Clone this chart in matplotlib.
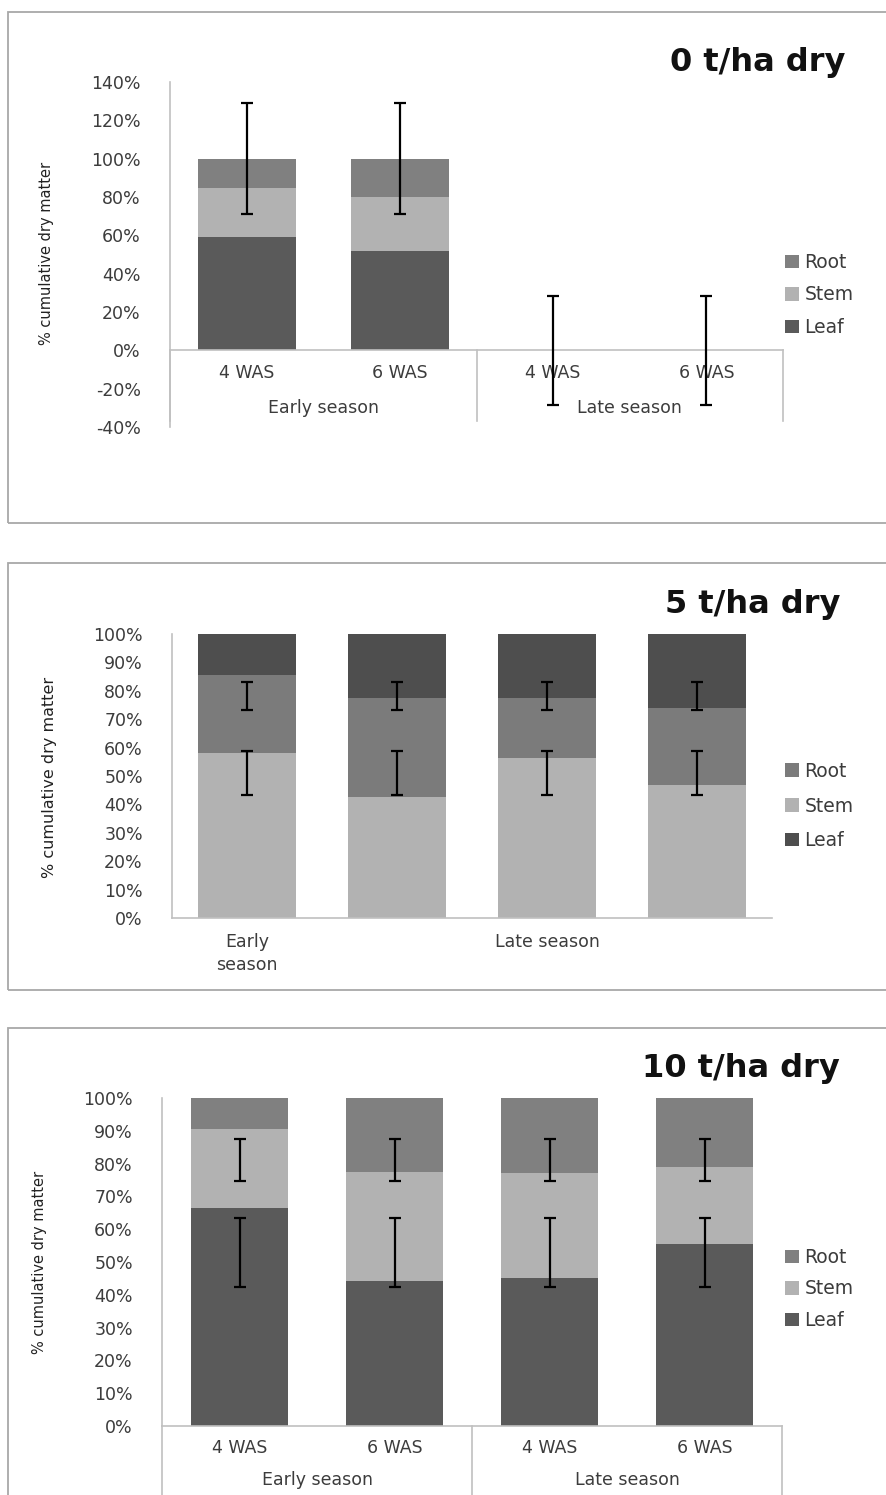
import matplotlib
matplotlib.use("Agg")
import matplotlib.pyplot as plt
from matplotlib.patches import Rectangle, Patch
import numpy as np

W, H = 886, 1495
plt.rcParams['font.family'] = ['DejaVu Sans']

# ---------------- data ----------------
wa_labels = ["4 WAS", "6 WAS", "4 WAS", "6 WAS"]
season_labels = ["Early season", "Late season"]
series_names = ["Leaf", "Stem", "Root"]

# Panel 1: 0 t/ha dry (values in %)
p1_title = "0 t/ha dry"
p1_leaf = [59, 52, 0, 0]
p1_stem = [25.5, 28, 0, 0]
p1_root = [15.5, 20, 0, 0]
p1_err_center = [100, 100, 0, 0]
p1_err_half = [29, 29, 28.5, 28.5]

# Panel 2: 5 t/ha dry (stacked Stem, Root, Leaf)
p2_title = "5 t/ha dry"
p2_tick_labels = ["Early\nseason", "", "Late season", ""]
p2_stem = [58, 42.5, 56.5, 47]
p2_root = [27.5, 35, 21, 27]
p2_leaf = [14.5, 22.5, 22.5, 26]
p2_err_upper_center = [78.2, 78.2, 78.2, 78.2]
p2_err_upper_half = [5, 5, 5, 5]
p2_err_lower_center = [51, 51, 51, 51]
p2_err_lower_half = [7.7, 7.7, 7.7, 7.7]

# Panel 3: 10 t/ha dry
p3_title = "10 t/ha dry"
p3_leaf = [66.5, 44.2, 45.2, 55.5]
p3_stem = [24, 33.3, 31.8, 23.5]
p3_root = [9.5, 22.5, 23, 21]
p3_err_upper_center = [81.1, 81.1, 81.1, 81.1]
p3_err_upper_half = [6.4, 6.4, 6.4, 6.4]
p3_err_lower_center = [53, 53, 53, 53]
p3_err_lower_half = [10.5, 10.5, 10.5, 10.5]

# ---------------- style ----------------
C_LEAF = "#5a5a5a"
C_STEM = "#b2b2b2"
C_ROOT = "#808080"
C_LEAF2 = "#4e4e4e"
C_ROOT2 = "#7b7b7b"
AXIS_C = "#c0c0c0"
TXT_C = "#3c3c3c"
FS = 12.5

fig = plt.figure(figsize=(W / 100, H / 100), dpi=100)


def add_ax(x0, ytop, x1, ybot):
    return fig.add_axes([x0 / W, 1 - ybot / H, (x1 - x0) / W, (ybot - ytop) / H])


def panel_box(x0, ytop, x1, ybot):
    fig.add_artist(Rectangle((x0 / W, 1 - ybot / H), (x1 - x0) / W, (ybot - ytop) / H,
                             transform=fig.transFigure, fill=False,
                             edgecolor="#a8a8a8", linewidth=1.3))


def style_axes(ax):
    for s in ["top", "right"]:
        ax.spines[s].set_visible(False)
    ax.spines["left"].set_color(AXIS_C)
    ax.spines["bottom"].set_color(AXIS_C)
    ax.spines["left"].set_linewidth(1.2)
    ax.spines["bottom"].set_linewidth(1.2)
    ax.tick_params(axis="both", length=0, colors=TXT_C, labelsize=FS)
    ax.tick_params(axis="y", pad=21)
    ax.set_facecolor("none")


def pct_labels(ax, ticks):
    ax.set_yticks(ticks)
    ax.set_yticklabels([f"{int(t)}%" for t in ticks])


def legend(ax, ycenter_px, colors, spacing):
    handles = [Patch(facecolor=colors[0], edgecolor="none", label="Root"),
               Patch(facecolor=colors[1], edgecolor="none", label="Stem"),
               Patch(facecolor=colors[2], edgecolor="none", label="Leaf")]
    ax.legend(handles=handles, loc="center left",
              bbox_to_anchor=(768 / W, 1 - ycenter_px / H), bbox_transform=fig.transFigure,
              frameon=False, fontsize=13.5, handlelength=0.75, handleheight=0.7,
              handletextpad=0.3, labelspacing=spacing, labelcolor=TXT_C)


def err(ax, x, c, h):
    ax.errorbar(x, c, yerr=h, fmt="none", ecolor="black", elinewidth=1.6,
                capsize=4.5, capthick=1.6, zorder=5, clip_on=False)


x = np.arange(4)

# ================= Panel 1 =================
panel_box(8, 12, 900, 523)
ax1 = add_ax(170, 82, 783, 427)
style_axes(ax1)
ax1.set_xlim(-0.5, 3.5)
ax1.set_ylim(-40, 140)
bw = 0.64
ax1.bar(x, p1_leaf, bw, color=C_LEAF, zorder=2)
ax1.bar(x, p1_stem, bw, bottom=p1_leaf, color=C_STEM, zorder=2)
ax1.bar(x, p1_root, bw, bottom=np.add(p1_leaf, p1_stem), color=C_ROOT, zorder=2)
pct_labels(ax1, np.arange(-40, 141, 20))
ax1.spines["bottom"].set_position(("data", 0))
ax1.set_xticks([])
for xi, lab in zip(x, wa_labels):
    ax1.text(xi, -12, lab, ha="center", va="center", fontsize=FS, color=TXT_C)
ax1.text(0.5, -30, season_labels[0], ha="center", va="center", fontsize=FS, color=TXT_C)
ax1.text(2.5, -30, season_labels[1], ha="center", va="center", fontsize=FS, color=TXT_C)
for xs in [-0.5, 1.5, 3.5]:
    ax1.plot([xs, xs], [0, -37], color=AXIS_C, lw=1.2, clip_on=False, zorder=1)
err(ax1, x, p1_err_center, p1_err_half)
fig.text(47 / W, 1 - 253 / H, "% cumulative dry matter", rotation=90, ha="center",
         va="center", fontsize=10.5, color="#222222")
fig.text(845 / W, 1 - 63 / H, p1_title, ha="right", va="center", fontsize=23,
         fontweight="bold", color="#111111")
legend(ax1, 295, [C_ROOT, C_STEM, C_LEAF], 0.72)

# ================= Panel 2 =================
panel_box(8, 563, 900, 990)
ax2 = add_ax(172, 634, 772, 918)
style_axes(ax2)
ax2.set_xlim(-0.5, 3.5)
ax2.set_ylim(0, 100)
bw = 0.65
ax2.bar(x, p2_stem, bw, color=C_STEM, zorder=2)
ax2.bar(x, p2_root, bw, bottom=p2_stem, color=C_ROOT2, zorder=2)
ax2.bar(x, p2_leaf, bw, bottom=np.add(p2_stem, p2_root), color=C_LEAF2, zorder=2)
pct_labels(ax2, np.arange(0, 101, 10))
ax2.set_xticks(x)
ax2.set_xticklabels(p2_tick_labels, linespacing=1.35)
ax2.tick_params(axis="x", pad=11)
err(ax2, x, p2_err_upper_center, p2_err_upper_half)
err(ax2, x, p2_err_lower_center, p2_err_lower_half)
fig.text(50 / W, 1 - 777 / H, "% cumulative dry matter", rotation=90, ha="center",
         va="center", fontsize=11.5, color="#222222")
fig.text(840 / W, 1 - 604 / H, p2_title, ha="right", va="center", fontsize=23,
         fontweight="bold", color="#111111")
legend(ax2, 806, [C_ROOT2, C_STEM, C_LEAF2], 0.85)

# ================= Panel 3 =================
panel_box(8, 1028, 900, 1520)
ax3 = add_ax(162, 1098, 782, 1426)
style_axes(ax3)
ax3.set_xlim(-0.5, 3.5)
ax3.set_ylim(0, 100)
bw = 0.63
ax3.bar(x, p3_leaf, bw, color=C_LEAF, zorder=2)
ax3.bar(x, p3_stem, bw, bottom=p3_leaf, color=C_STEM, zorder=2)
ax3.bar(x, p3_root, bw, bottom=np.add(p3_leaf, p3_stem), color=C_ROOT, zorder=2)
pct_labels(ax3, np.arange(0, 101, 10))
ax3.set_xticks([])
for xi, lab in zip(x, wa_labels):
    ax3.text(xi, -6.7, lab, ha="center", va="center", fontsize=FS, color=TXT_C)
ax3.text(0.5, -16.5, season_labels[0], ha="center", va="center", fontsize=FS, color=TXT_C)
ax3.text(2.5, -16.5, season_labels[1], ha="center", va="center", fontsize=FS, color=TXT_C)
for xs in [-0.5, 1.5, 3.5]:
    ax3.plot([xs, xs], [0, -25], color=AXIS_C, lw=1.2, clip_on=False, zorder=1)
err(ax3, x, p3_err_upper_center, p3_err_upper_half)
err(ax3, x, p3_err_lower_center, p3_err_lower_half)
fig.text(40 / W, 1 - 1262 / H, "% cumulative dry matter", rotation=90, ha="center",
         va="center", fontsize=10.5, color="#222222")
fig.text(840 / W, 1 - 1068 / H, p3_title, ha="right", va="center", fontsize=23,
         fontweight="bold", color="#111111")
legend(ax3, 1289, [C_ROOT, C_STEM, C_LEAF], 0.65)

fig.savefig("out.png", dpi=100, facecolor="white")
